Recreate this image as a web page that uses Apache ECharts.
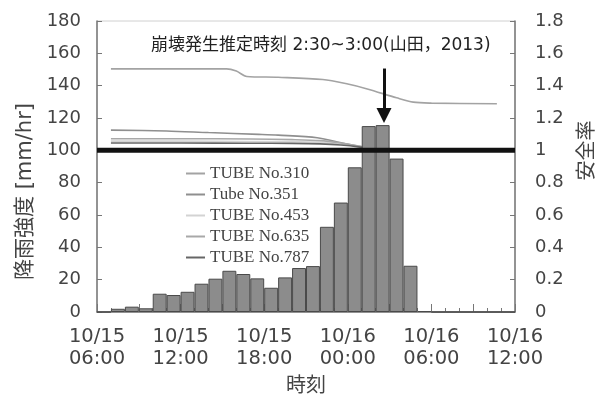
<!DOCTYPE html>
<html>
<head>
<meta charset="utf-8">
<script src="https://cdn.jsdelivr.net/npm/echarts@6/dist/echarts.min.js"></script>
<style>
html,body{margin:0;padding:0;background:#fff;}
#chart{width:604px;height:407px;}
</style>
</head>
<body>
<div id="chart"></div>
<script>
// hours since 10/15 06:00
var xTickLabels = {0:'10/15\n06:00', 6:'10/15\n12:00', 12:'10/15\n18:00', 18:'10/16\n00:00', 24:'10/16\n06:00', 30:'10/16\n12:00'};
// hourly rainfall [mm/hr], bar i covers hour i..i+1
var rainHours = [0,1,2,3,4,5,6,7,8,9,10,11,12,13,14,15,16,17,18,19,20,21,22,23,24,25,26,27,28,29];
var rainValues = [0,2,3.3,2.3,11.3,10.5,12.5,17.5,20.6,25.5,23.5,20.8,15,21.4,27.2,28.4,52.7,67.7,89.5,115,115.6,94.9,28.6,0.6,0,0,0,0,0,0];
var tubeNames = ['TUBE No.310','Tube No.351','TUBE No.453','TUBE No.635','TUBE No.787'];
var tube310 = [[1,1.504],[9.3,1.504],[10.0,1.49],[10.75,1.457],[13,1.452],[16.2,1.438],[18,1.41],[19.4,1.38],[21.5,1.325],[22.7,1.298],[24,1.292],[28.7,1.288]];
var tube351 = [[1,1.125],[5,1.12],[8,1.11],[11.6,1.099],[13,1.094],[15.8,1.078],[17.7,1.043],[18.9,1.023],[20,1.005]];
var tube453 = [[1,1.057],[6,1.057],[11,1.055],[14,1.053],[16,1.05],[17.5,1.04],[18.9,1.022],[20,1.005]];
var tube635 = [[1,1.072],[6,1.072],[11,1.07],[14,1.066],[16,1.06],[17.5,1.045],[18.9,1.025],[20,1.005]];
var tube787 = [[1,1.045],[6,1.045],[11,1.044],[14,1.043],[16,1.04],[17.5,1.033],[18.9,1.02],[20,1.005]];
var thresholdLine = [[0,1],[30,1]];
var arrowTime = 20.6, arrowFrom = 150.6, arrowTo = 121.5;
var annotation = '崩壊発生推定時刻 2:30~3:00(山田，2013)';

var tubeData = [tube310, tube351, tube453, tube635, tube787];
var tubeColors = ['#a3a3a3','#8f8f8f','#d3d3d3','#a8a8a8','#666666'];

var chart = echarts.init(document.getElementById('chart'));
var series = [];
tubeData.forEach(function(d, i){
  series.push({
    name: tubeNames[i], type:'line', yAxisIndex:1, data:d, symbol:'none', smooth:0.3,
    lineStyle:{color:tubeColors[i], width:1.6}, itemStyle:{color:tubeColors[i]}, z:2, silent:true
  });
});
series.push({
  type:'bar', yAxisIndex:0,
  data: rainHours.map(function(h,i){return [h+0.5, rainValues[i]];}),
  barWidth:'100%',
  itemStyle:{color:'#8c8c8c', borderColor:'#4a4a4a', borderWidth:1},
  z:3, silent:true,
  markLine:{
    silent:true, symbol:['none','triangle'], symbolSize:[15,15],
    lineStyle:{color:'#111', width:3, type:'solid'}, label:{show:false},
    data:[[{coord:[arrowTime, arrowFrom]},{coord:[arrowTime, arrowTo]}]]
  }
});
series.push({
  type:'line', yAxisIndex:1, data:thresholdLine, symbol:'none',
  lineStyle:{color:'#111', width:5}, z:5, silent:true
});

var sansMix = 'DejaVu Sans, Noto Sans CJK JP';
chart.setOption({
  animation:false,
  grid:{left:97, right:89, top:21, bottom:95, show:true, borderColor:'#d0d0d0', borderWidth:1},
  title:{text:annotation, left:146, top:32, textStyle:{fontFamily:sansMix, fontSize:17, fontWeight:'normal', color:'#222'}},
  legend:{
    data:tubeNames, orient:'vertical', left:181, top:160, icon:'rect', itemWidth:19, itemHeight:2, itemGap:4,
    textStyle:{fontFamily:'Liberation Serif', fontSize:17, color:'#444'}
  },
  xAxis:{
    type:'value', min:0, max:30, interval:3,
    name:'時刻', nameLocation:'middle', nameGap:54,
    nameTextStyle:{fontFamily:'Noto Sans CJK JP', fontSize:20, color:'#444'},
    axisLine:{lineStyle:{color:'#777', width:1.5}},
    axisTick:{inside:true, length:8, lineStyle:{color:'#777'}},
    minorTick:{show:true, splitNumber:3, length:4, lineStyle:{color:'#777'}},
    splitLine:{show:false},
    axisLabel:{fontFamily:'DejaVu Sans', fontSize:19.5, color:'#444', lineHeight:22, margin:14,
      formatter:function(v){return xTickLabels[v] || '';}}
  },
  yAxis:[{
    type:'value', min:0, max:180, interval:20, position:'left',
    name:'降雨強度 [mm/hr]', nameLocation:'middle', nameGap:57, nameRotate:90,
    nameTextStyle:{fontFamily:sansMix, fontSize:21, color:'#444', padding:[0,50,0,0]},
    axisLine:{show:true, lineStyle:{color:'#777', width:1.5}},
    axisTick:{show:true, inside:true, length:5, lineStyle:{color:'#777'}},
    splitLine:{show:false},
    axisLabel:{fontFamily:'DejaVu Sans', fontSize:18, color:'#444', margin:16}
  },{
    type:'value', min:0, max:1.8, interval:0.2, position:'right',
    name:'安全率', nameLocation:'middle', nameGap:60, nameRotate:90,
    nameTextStyle:{fontFamily:'Noto Sans CJK JP', fontSize:20, color:'#444', padding:[0,0,0,32]},
    axisLine:{show:true, lineStyle:{color:'#777', width:1.5}},
    axisTick:{show:true, inside:true, length:5, lineStyle:{color:'#777'}},
    splitLine:{show:false},
    axisLabel:{fontFamily:'DejaVu Sans', fontSize:18, color:'#444', margin:20}
  }],
  series:series
});
</script>
</body>
</html>
